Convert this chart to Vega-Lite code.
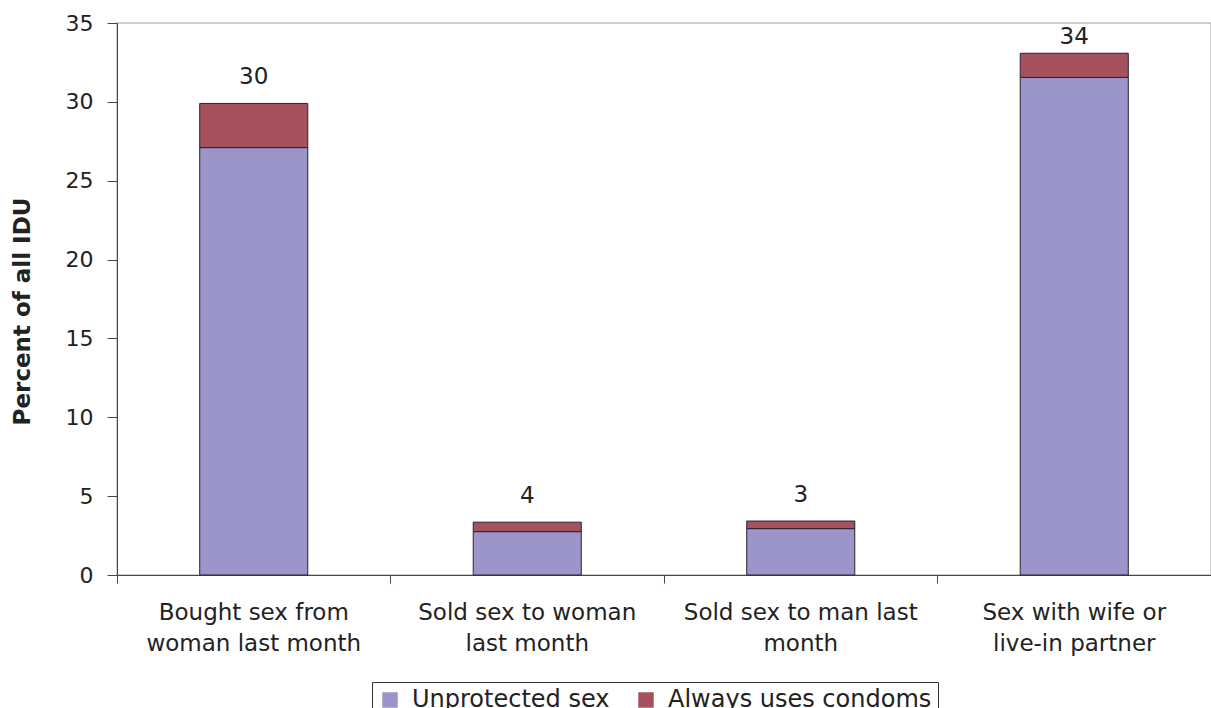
{
  "$schema": "https://vega.github.io/schema/vega-lite/v6.json",
  "width": 1094,
  "height": 552,
  "autosize": {"type": "none"},
  "padding": {"left": 117, "top": 23, "right": 0, "bottom": 133},
  "background": "white",
  "config": {
    "font": "DejaVu Sans",
    "view": {"stroke": "#c0c0c0", "strokeWidth": 1.5},
    "axis": {"labelColor": "#222", "titleColor": "#222", "domainColor": "#5e3c46", "tickColor": "#5e3c46", "grid": false}
  },
  "datasets": {
    "bars": [
      {"category": "Bought sex from woman last month", "series": "Unprotected sex", "value": 27.1},
      {"category": "Bought sex from woman last month", "series": "Always uses condoms", "value": 2.8},
      {"category": "Sold sex to woman last month", "series": "Unprotected sex", "value": 2.75},
      {"category": "Sold sex to woman last month", "series": "Always uses condoms", "value": 0.6},
      {"category": "Sold sex to man last month", "series": "Unprotected sex", "value": 2.94},
      {"category": "Sold sex to man last month", "series": "Always uses condoms", "value": 0.48},
      {"category": "Sex with wife or live-in partner", "series": "Unprotected sex", "value": 31.55},
      {"category": "Sex with wife or live-in partner", "series": "Always uses condoms", "value": 1.53}
    ],
    "labels": [
      {"category": "Bought sex from woman last month", "total": 29.9, "label": "30"},
      {"category": "Sold sex to woman last month", "total": 3.35, "label": "4"},
      {"category": "Sold sex to man last month", "total": 3.42, "label": "3"},
      {"category": "Sex with wife or live-in partner", "total": 33.08, "label": "34"}
    ]
  },
  "layer": [
    {
      "data": {"name": "bars"},
      "mark": {"type": "bar", "width": {"band": 0.395}, "stroke": "#2a2030", "strokeWidth": 1},
      "encoding": {
        "x": {
          "field": "category", "type": "nominal",
          "sort": ["Bought sex from woman last month", "Sold sex to woman last month", "Sold sex to man last month", "Sex with wife or live-in partner"],
          "scale": {"paddingInner": 0, "paddingOuter": 0},
          "axis": {
            "title": null, "labelAngle": 0, "bandPosition": 0,
            "tickSize": 8, "labelPadding": 18, "labelFontSize": 23, "labelLineHeight": 31, "labelLimit": 0,
            "labelAlign": "center", "labelBaseline": "top",
            "labelExpr": "datum.value == 'Bought sex from woman last month' ? ['Bought sex from', 'woman last month'] : datum.value == 'Sold sex to woman last month' ? ['Sold sex to woman', 'last month'] : datum.value == 'Sold sex to man last month' ? ['Sold sex to man last', 'month'] : ['Sex with wife or', 'live-in partner']"
          }
        },
        "y": {
          "field": "value", "type": "quantitative", "stack": "zero",
          "scale": {"domain": [0, 35]},
          "axis": {
            "title": "Percent of all IDU", "values": [0, 5, 10, 15, 20, 25, 30, 35],
            "tickSize": 10, "labelPadding": 14, "labelFontSize": 22,
            "titleFontSize": 23, "titleFontWeight": "bold", "titleX": -95, "titleY": 288, "titleAngle": -90, "titleAlign": "center", "titleBaseline": "middle"
          }
        },
        "color": {
          "field": "series", "type": "nominal",
          "sort": ["Unprotected sex", "Always uses condoms"],
          "scale": {"domain": ["Unprotected sex", "Always uses condoms"], "range": ["#9b95c9", "#a5525e"]},
          "legend": {
            "title": null, "orient": "none", "legendX": 255, "legendY": 659, "direction": "horizontal",
            "symbolType": "square", "symbolSize": 240, "symbolStrokeWidth": 0, "labelFontSize": 24, "labelColor": "#222", "labelLimit": 0,
            "labelOffset": 10, "columnPadding": 24, "padding": 6, "strokeColor": "#333", "fillColor": "white"
          }
        }
      }
    },
    {
      "data": {"name": "labels"},
      "transform": [{"filter": "datum.label != '34'"}],
      "mark": {"type": "text", "fontSize": 23, "color": "#222", "baseline": "middle", "dy": -26},
      "encoding": {
        "x": {"field": "category", "type": "nominal", "sort": ["Bought sex from woman last month", "Sold sex to woman last month", "Sold sex to man last month", "Sex with wife or live-in partner"]},
        "y": {"field": "total", "type": "quantitative"},
        "text": {"field": "label"}
      }
    },
    {
      "data": {"name": "labels"},
      "transform": [{"filter": "datum.label == '34'"}],
      "mark": {"type": "text", "fontSize": 23, "color": "#222", "baseline": "middle", "dy": -16},
      "encoding": {
        "x": {"field": "category", "type": "nominal", "sort": ["Bought sex from woman last month", "Sold sex to woman last month", "Sold sex to man last month", "Sex with wife or live-in partner"]},
        "y": {"field": "total", "type": "quantitative"},
        "text": {"field": "label"}
      }
    }
  ]
}
